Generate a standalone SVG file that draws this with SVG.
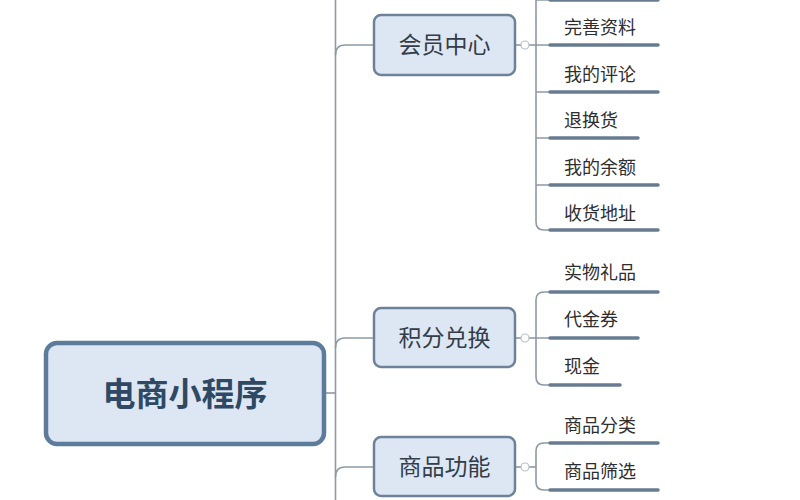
<svg xmlns="http://www.w3.org/2000/svg" width="800" height="500" viewBox="0 0 800 500">
<style>
.thin{fill:none;stroke:#8c9aa7;stroke-width:1.6}
.under{fill:none;stroke:#677c91;stroke-width:3.5;stroke-linecap:round}
.knob{fill:#fff;stroke:#b8c0c8;stroke-width:1.2}
.box{fill:#dde7f4;stroke:#6d8298;stroke-width:2.5}
.btxt{font-family:"Noto Sans CJK SC","Noto Sans",sans-serif;font-size:23px;fill:#333c47;text-anchor:middle}
.itxt{font-family:"Noto Sans CJK SC","Noto Sans",sans-serif;font-size:18px;fill:#2e2e2e}
</style>
<rect width="800" height="500" fill="#ffffff"/>
<g id="connectors">
<line class="thin" x1="335.5" y1="0" x2="335.5" y2="500"/>
<line class="thin" x1="325" y1="393" x2="335.5" y2="393"/>
<path class="thin" d="M335.5 55 Q335.5 45 345 45 L373 45"/>
<path class="thin" d="M335.5 348 Q335.5 338 345 338 L373 338"/>
<path class="thin" d="M335.5 477 Q335.5 467 345 467 L373 467"/>
<!-- 会员中心 children -->
<line class="thin" x1="515" y1="45" x2="521" y2="45"/>
<line class="thin" x1="529" y1="45" x2="536" y2="45"/>
<path class="thin" d="M536 0 L536 222 Q536 230 544 230 L550 230"/>
<path class="thin" d="M536 0 L550 0 M536 45 L550 45 M536 92 L550 92 M536 138 L550 138 M536 185 L550 185"/>
<!-- 积分兑换 children -->
<line class="thin" x1="515" y1="338" x2="521" y2="338"/>
<line class="thin" x1="529" y1="338" x2="536" y2="338"/>
<path class="thin" d="M550 292 L544 292 Q536 292 536 300 L536 377 Q536 385 544 385 L550 385 M536 338 L550 338"/>
<!-- 商品功能 children -->
<line class="thin" x1="515" y1="467" x2="521" y2="467"/>
<line class="thin" x1="529" y1="467" x2="536" y2="467"/>
<path class="thin" d="M550 443 L544 443 Q536 443 536 451 L536 482 Q536 490 544 490 L550 490"/>
<circle class="knob" cx="525" cy="45" r="4"/>
<circle class="knob" cx="525" cy="338" r="4"/>
<circle class="knob" cx="525" cy="467" r="4"/>
</g>
<g id="root">
<rect x="46" y="343" width="278" height="101" rx="11" fill="#dde7f4" stroke="#5d7b9a" stroke-width="4.5"/>
<text x="185" y="406" font-family="Noto Sans CJK SC,Noto Sans,sans-serif" font-size="33" font-weight="bold" fill="#2f4965" text-anchor="middle">电商小程序</text>
</g>
<g id="member">
<rect class="box" x="374" y="15" width="141" height="60" rx="7"/>
<text class="btxt" x="444.5" y="53">会员中心</text>
</g>
<g id="points">
<rect class="box" x="374" y="308" width="141" height="59" rx="7"/>
<text class="btxt" x="444.5" y="346">积分兑换</text>
</g>
<g id="goods">
<rect class="box" x="374" y="437" width="141" height="59" rx="7"/>
<text class="btxt" x="444.5" y="475">商品功能</text>
</g>
<g id="item-top"><line class="under" x1="550" y1="0" x2="658" y2="0"/></g>
<g id="item-ziliao"><text class="itxt" x="564" y="34">完善资料</text><line class="under" x1="550" y1="45" x2="658" y2="45"/></g>
<g id="item-pinglun"><text class="itxt" x="564" y="81">我的评论</text><line class="under" x1="550" y1="92" x2="658" y2="92"/></g>
<g id="item-tuihuan"><text class="itxt" x="564" y="127">退换货</text><line class="under" x1="550" y1="138" x2="638" y2="138"/></g>
<g id="item-yue"><text class="itxt" x="564" y="174">我的余额</text><line class="under" x1="550" y1="185" x2="658" y2="185"/></g>
<g id="item-dizhi"><text class="itxt" x="564" y="220">收货地址</text><line class="under" x1="550" y1="230" x2="658" y2="230"/></g>
<g id="item-lipin"><text class="itxt" x="564" y="279">实物礼品</text><line class="under" x1="550" y1="292" x2="658" y2="292"/></g>
<g id="item-daijin"><text class="itxt" x="564" y="326">代金券</text><line class="under" x1="550" y1="338" x2="638" y2="338"/></g>
<g id="item-xianjin"><text class="itxt" x="564" y="373">现金</text><line class="under" x1="550" y1="385" x2="620" y2="385"/></g>
<g id="item-fenlei"><text class="itxt" x="564" y="432">商品分类</text><line class="under" x1="550" y1="443" x2="658" y2="443"/></g>
<g id="item-shaixuan"><text class="itxt" x="564" y="478">商品筛选</text><line class="under" x1="550" y1="490" x2="658" y2="490"/></g>
</svg>
